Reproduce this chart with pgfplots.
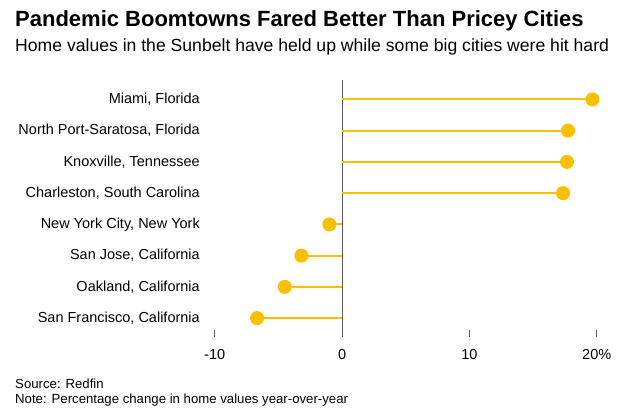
\documentclass[border=0pt]{standalone}
\usepackage{pgfplots}
\pgfplotsset{compat=1.18}
\usepackage{fontspec}
\setmainfont{Liberation Sans}
\definecolor{gold}{RGB}{250,192,0}
\definecolor{zline}{RGB}{90,90,90}
\begin{document}
\begin{tikzpicture}[x=1pt,y=1pt]
\path (0,0) rectangle (627,408);
\node[anchor=base west, inner sep=0pt, font=\fontsize{22}{24}\selectfont\bfseries] at (15,381) {Pandemic Boomtowns Fared Better Than Pricey Cities};
\node[anchor=base west, inner sep=0pt, font=\fontsize{17.6}{20}\selectfont] at (15,356) {Home values in the Sunbelt have held up while some big cities were hit hard};
\node[anchor=base west, inner sep=0pt, font=\fontsize{13.2}{15}\selectfont] at (15,19.5) {Source: Redfin};
\node[anchor=base west, inner sep=0pt, font=\fontsize{13.2}{15}\selectfont] at (15,4.5) {Note: Percentage change in home values year-over-year};
\begin{axis}[
  at={(214.7pt,78pt)}, anchor=south west,
  scale only axis, width=382pt, height=250pt,
  xmin=-10, xmax=20, ymin=-0.62, ymax=7.38,
  y dir=reverse, clip=false,
  axis line style={draw=none},
  major tick length=7pt,
  xtick={-10,0,10,20}, xticklabels={-10,0,10,20\%},
  xtick pos=lower, xtick align=outside,
  x tick style={draw=zline, line width=0.8pt},
  xticklabel style={font=\fontsize{14.5}{16}\selectfont, inner sep=0pt, yshift=-12pt},
  ytick={0,1,2,3,4,5,6,7},
  yticklabels={{Miami, Florida},{North Port-Saratosa, Florida},{Knoxville, Tennessee},{Charleston, South Carolina},{New York City, New York},{San Jose, California},{Oakland, California},{San Francisco, California}},
  ytick pos=left, ytick align=inside,
  y tick style={draw=none},
  yticklabel style={font=\fontsize{14.5}{16}\selectfont, anchor=east, inner sep=0pt, xshift=-14.7pt},
  /pgf/number format/assume math mode=true,
]
\draw[zline, line width=0.9pt] (axis cs:0,-0.62) -- ([yshift=-7pt]axis cs:0,7.38);
\addplot[xcomb, draw=gold, line width=2pt, mark=*, mark size=6pt, mark options={solid, fill=gold, draw=none}] coordinates {
(19.66,0) (17.75,1) (17.67,2) (17.36,3) (-1.0,4) (-3.19,5) (-4.5,6) (-6.67,7)
};
\end{axis}
\end{tikzpicture}
\end{document}
